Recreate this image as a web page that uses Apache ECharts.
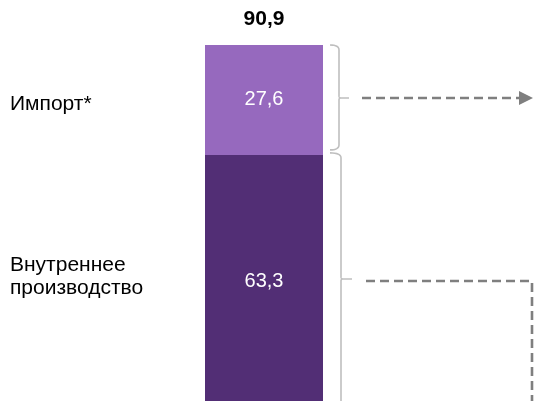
<!DOCTYPE html>
<html><head><meta charset="utf-8">
<script src="https://cdn.jsdelivr.net/npm/echarts@6/dist/echarts.min.js"></script>
<style>html,body{margin:0;padding:0;background:#fff;overflow:hidden}#c{width:535px;height:407px}</style>
</head><body><div id="c"></div>
<script>
const categories = ['Всего'];
const segmentNames = ['Внутреннее\nпроизводство', 'Импорт*'];
const domestic = [63.3];
const imports = [27.6];
const total = [90.9];

const fmt = v => String(v).replace('.', ',');
const FONT = "'Liberation Sans', Arial, sans-serif";
const chart = echarts.init(document.getElementById('c'), null, {renderer: 'canvas'});

chart.setOption({
  animation: false,
  backgroundColor: '#ffffff',
  grid: {left: 205, width: 118, top: 45, bottom: 0},
  xAxis: {type: 'category', data: categories, show: false},
  yAxis: {type: 'value', min: 0, max: total[0], show: false},
  series: [
    {name: segmentNames[0], type: 'bar', stack: 's', barWidth: '100%', data: domestic,
     itemStyle: {color: '#522E75'},
     label: {show: true, position: 'inside', offset: [0, 1], color: '#fff', fontSize: 20, fontFamily: FONT, formatter: p => fmt(p.value)}},
    {name: segmentNames[1], type: 'bar', stack: 's', barWidth: '100%', data: imports,
     itemStyle: {color: '#9669BE'},
     label: {show: true, position: 'inside', color: '#fff', fontSize: 20, fontFamily: FONT, formatter: p => fmt(p.value)}}
  ]
});

const yPix = v => chart.convertToPixel({yAxisIndex: 0}, v);
const xc = chart.convertToPixel({xAxisIndex: 0}, categories[0]);
let bw = 118;
try { bw = chart.getModel().getComponent('xAxis', 0).axis.getBandWidth(); } catch (e) {}
const right = xc + bw / 2;

const yTop = yPix(total[0]);
const yMidLine = yPix(domestic[0]);
const yBottom = yPix(0);
const yImpMid = yPix(domestic[0] + imports[0] / 2);
const yDomMid = yPix(domestic[0] / 2);

function quad(p0, p1, p2, out) {
  for (let i = 0; i <= 8; i++) {
    const t = i / 8, u = 1 - t;
    out.push([u * u * p0[0] + 2 * u * t * p1[0] + t * t * p2[0], u * u * p0[1] + 2 * u * t * p1[1] + t * t * p2[1]]);
  }
}
function brace(t, b, m, x0, x1, x2) {
  const r = 5, rm = 2, pts = [];
  quad([x0, t], [x1, t], [x1, t + r], pts);
  quad([x1, m - rm], [x1, m], [x1 + rm, m], pts);
  pts.push([x2, m]);
  pts.push([x1 + rm, m]);
  quad([x1 + rm, m], [x1, m], [x1, m + rm], pts);
  quad([x1, b - r], [x1, b], [x0, b], pts);
  return pts;
}
const braceStyle = {stroke: '#BFBFBF', fill: null, lineWidth: 1.6};
const dashStyle = {stroke: '#7F7F7F', lineWidth: 2.6, lineDash: [9, 5]};

chart.setOption({
  graphic: [
    {type: 'text', x: xc, y: yTop - 26,
     style: {text: fmt(total[0]), fontSize: 21, fontWeight: 'bold', fontFamily: FONT, fill: '#000', align: 'center', verticalAlign: 'middle'}},
    {type: 'text', x: 10, y: yImpMid + 4,
     style: {text: segmentNames[1], fontSize: 21, fontFamily: FONT, fill: '#000', align: 'left', verticalAlign: 'middle'}},
    {type: 'text', x: 10, y: yDomMid - 4,
     style: {text: segmentNames[0], fontSize: 21, lineHeight: 23, fontFamily: FONT, fill: '#000', align: 'left', verticalAlign: 'middle'}},
    {type: 'polyline', shape: {points: brace(yTop, yMidLine - 5, yImpMid - 2, right + 7, right + 16, right + 26)}, style: braceStyle},
    {type: 'polyline', shape: {points: brace(yMidLine - 2, yBottom + 30, yDomMid - 2, right + 7, right + 18, right + 29)}, style: braceStyle},
    {type: 'line', shape: {x1: right + 39, y1: yImpMid - 2, x2: right + 198, y2: yImpMid - 2}, style: dashStyle},
    {type: 'polygon', shape: {points: [[right + 196, yImpMid - 9], [right + 210, yImpMid - 2], [right + 196, yImpMid + 5]]}, style: {fill: '#7F7F7F'}},
    {type: 'polyline', shape: {points: [[right + 43, yDomMid], [right + 209, yDomMid], [right + 209, yBottom + 20]]}, style: Object.assign({fill: null}, dashStyle)}
  ]
});
</script></body></html>
